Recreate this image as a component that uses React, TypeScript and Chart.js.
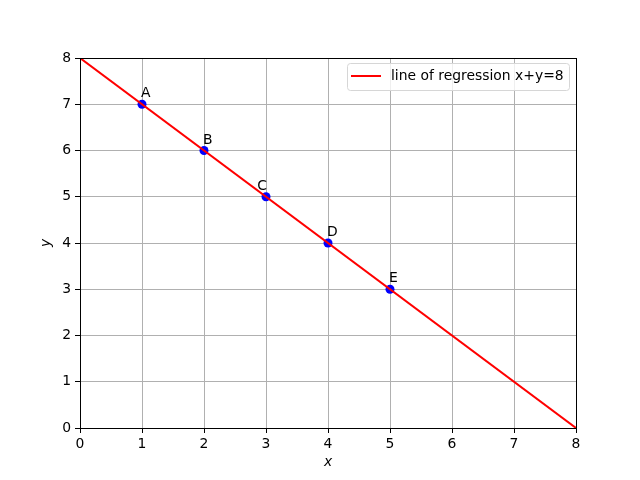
import React, { useEffect, useRef } from "react";
import { Chart, registerables } from "chart.js";

Chart.register(...registerables);

const pointX = [1, 2, 3, 4, 5];
const pointY = [7, 6, 5, 4, 3];
const pointLabels = ["A", "B", "C", "D", "E"];
const labelAlign = ["left", "left", "right", "left", "left"];
const lineX = [0, 8];
const lineY = [8, 0];
const legendText = "line of regression x+y=8";
const xTicks = [0, 1, 2, 3, 4, 5, 6, 7, 8];
const yTicks = [0, 1, 2, 3, 4, 5, 6, 7, 8];

const FONT = "DejaVu Sans";
const FS = 13.9;

const decorPlugin = {
  id: "decor",
  afterDatasetsDraw(chart: any) {
    const { ctx, chartArea, scales } = chart;
    const xs = scales.x;
    const ys = scales.y;
    ctx.save();
    ctx.strokeStyle = "#000";
    ctx.lineWidth = 1;
    ctx.strokeRect(
      Math.round(chartArea.left) + 0.5,
      Math.round(chartArea.top) + 0.5,
      Math.round(chartArea.right - chartArea.left),
      Math.round(chartArea.bottom - chartArea.top)
    );
    ctx.fillStyle = "#000";
    ctx.font = `${FS}px "${FONT}"`;
    ctx.textBaseline = "alphabetic";
    pointLabels.forEach((lab, i) => {
      const px = xs.getPixelForValue(pointX[i]);
      const py = ys.getPixelForValue(pointY[i]);
      ctx.textAlign = labelAlign[i] as CanvasTextAlign;
      const dx = labelAlign[i] === "right" ? 1 : -1;
      ctx.fillText(lab, px + dx, py - 7);
    });
    ctx.font = `italic ${FS}px "${FONT}"`;
    ctx.textAlign = "center";
    ctx.textBaseline = "middle";
    ctx.fillText("x", (chartArea.left + chartArea.right) / 2, 462);
    ctx.save();
    ctx.translate(46, (chartArea.top + chartArea.bottom) / 2);
    ctx.rotate(-Math.PI / 2);
    ctx.fillText("y", 0, 0);
    ctx.restore();
    const bx = 347.5, by = 63.5, bw = 222, bh = 27, r = 3;
    ctx.beginPath();
    ctx.moveTo(bx + r, by);
    ctx.lineTo(bx + bw - r, by);
    ctx.arcTo(bx + bw, by, bx + bw, by + r, r);
    ctx.lineTo(bx + bw, by + bh - r);
    ctx.arcTo(bx + bw, by + bh, bx + bw - r, by + bh, r);
    ctx.lineTo(bx + r, by + bh);
    ctx.arcTo(bx, by + bh, bx, by + bh - r, r);
    ctx.lineTo(bx, by + r);
    ctx.arcTo(bx, by, bx + r, by, r);
    ctx.closePath();
    ctx.fillStyle = "rgba(255,255,255,0.8)";
    ctx.fill();
    ctx.strokeStyle = "#d6d6d6";
    ctx.lineWidth = 1;
    ctx.stroke();
    ctx.strokeStyle = "#ff0000";
    ctx.lineWidth = 2;
    ctx.beginPath();
    ctx.moveTo(351, 76);
    ctx.lineTo(381, 76);
    ctx.stroke();
    ctx.fillStyle = "#000";
    ctx.font = `${FS}px "${FONT}"`;
    ctx.textAlign = "left";
    ctx.textBaseline = "middle";
    ctx.fillText(legendText, 391, 76.5);
    ctx.restore();
  },
};

export default function App() {
  const ref = useRef<HTMLCanvasElement>(null);
  useEffect(() => {
    if (!ref.current) return;
    const chart = new Chart(ref.current, {
      type: "scatter",
      data: {
        datasets: [
          {
            type: "line",
            label: legendText,
            data: lineX.map((x, i) => ({ x, y: lineY[i] })),
            borderColor: "#ff0000",
            borderWidth: 2,
            pointRadius: 0,
            fill: false,
            order: 0,
          },
          {
            type: "scatter",
            label: "points",
            data: pointX.map((x, i) => ({ x, y: pointY[i] })),
            backgroundColor: "#0000ff",
            borderColor: "#0000ff",
            pointRadius: 4.5,
            borderWidth: 0,
            order: 1,
          },
        ],
      },
      options: {
        animation: false,
        responsive: false,
        maintainAspectRatio: false,
        layout: { padding: { left: 0, right: 64, top: 58, bottom: 0 } },
        plugins: {
          legend: { display: false },
          tooltip: { enabled: false },
        },
        scales: {
          x: {
            type: "linear",
            min: 0,
            max: 8,
            afterFit: (s: any) => {
              s.height = 52;
            },
            afterBuildTicks: (s: any) => {
              s.ticks = xTicks.map((v) => ({ value: v }));
            },
            grid: {
              color: "#b0b0b0",
              lineWidth: 1,
              tickColor: "#000",
              tickLength: 5,
            },
            border: { display: true, color: "#000", width: 1 },
            ticks: {
              color: "#000",
              font: { family: FONT, size: FS },
              padding: 3,
              maxRotation: 0,
            },
          },
          y: {
            type: "linear",
            min: 0,
            max: 8,
            afterFit: (s: any) => {
              s.width = 80;
            },
            afterBuildTicks: (s: any) => {
              s.ticks = yTicks.map((v) => ({ value: v }));
            },
            grid: {
              color: "#b0b0b0",
              lineWidth: 1,
              tickColor: "#000",
              tickLength: 5,
            },
            border: { display: true, color: "#000", width: 1 },
            ticks: {
              color: "#000",
              font: { family: FONT, size: FS },
              padding: 4,
            },
          },
        },
      },
      plugins: [decorPlugin],
    });
    return () => chart.destroy();
  }, []);
  return (
    <div style={{ position: "absolute", left: 0, top: 0, width: 640, height: 480, background: "#fff" }}>
      <canvas ref={ref} width={640} height={480} style={{ width: 640, height: 480 }} />
    </div>
  );
}
